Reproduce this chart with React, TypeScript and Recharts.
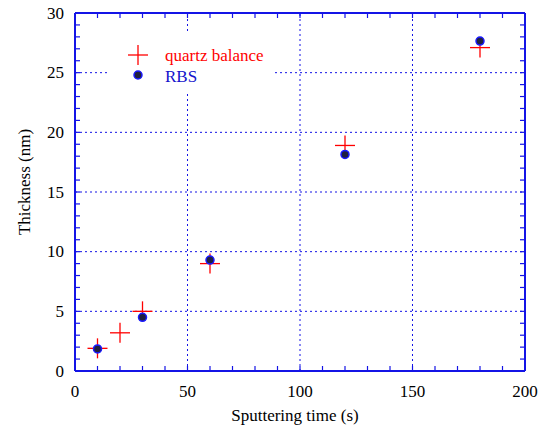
import React from 'react';
import {
  ScatterChart,
  Scatter,
  XAxis,
  YAxis,
  ReferenceLine,
  Legend,
} from 'recharts';

// sputtering time (s) vs film thickness (nm)
const quartzTime = [10, 20, 30, 60, 120, 180];
const quartzThickness = [1.9, 3.2, 5.0, 9.0, 18.9, 27.1];
const rbsTime = [10, 30, 60, 120, 180];
const rbsThickness = [1.85, 4.5, 9.3, 18.15, 27.65];

const xTicks = [0, 10, 20, 30, 40, 50, 60, 70, 80, 90, 100, 110, 120, 130, 140, 150, 160, 170, 180, 190, 200];
const xMajor = [0, 50, 100, 150, 200];
const yTicks = [0, 1, 2, 3, 4, 5, 6, 7, 8, 9, 10, 11, 12, 13, 14, 15, 16, 17, 18, 19, 20, 21, 22, 23, 24, 25, 26, 27, 28, 29, 30];
const yMajor = [0, 5, 10, 15, 20, 25, 30];
const xGrid = [50, 100, 150];
const yGrid = [5, 10, 15, 20, 25];

const quartzData = quartzTime.map((t, i) => ({ t, d: quartzThickness[i] }));
const rbsData = rbsTime.map((t, i) => ({ t, d: rbsThickness[i] }));

const AXIS = '#1414e6';
const FONT = 'Liberation Serif';
const FS = 17;
const TICK = 5;
// plot box (set by the margins below)
const PLOT_TOP = 13;
const PLOT_RIGHT = 525;

function Plus({ cx, cy }: any) {
  return (
    <g stroke="#ff0000" strokeWidth={1.3}>
      <line x1={cx - 10} y1={cy} x2={cx + 10} y2={cy} />
      <line x1={cx} y1={cy - 10} x2={cx} y2={cy + 10} />
    </g>
  );
}

function Dot({ cx, cy }: any) {
  return <circle cx={cx} cy={cy} r={4} fill="#202040" stroke="#1a1aff" strokeWidth={1.5} />;
}

function BottomTick({ x, y, payload }: any) {
  const major = xMajor.includes(payload.value);
  return (
    <g>
      <line x1={x} y1={y} x2={x} y2={y - TICK} stroke={AXIS} strokeWidth={1.2} />
      <line x1={x} y1={PLOT_TOP} x2={x} y2={PLOT_TOP + TICK} stroke={AXIS} strokeWidth={1.2} />
      {major && (
        <text x={x} y={y + 26} textAnchor="middle" fontFamily={FONT} fontSize={FS} fill="#000">
          {payload.value}
        </text>
      )}
    </g>
  );
}

function LeftTick({ x, y, payload }: any) {
  const major = yMajor.includes(payload.value);
  return (
    <g>
      <line x1={x} y1={y} x2={x + TICK} y2={y} stroke={AXIS} strokeWidth={1.2} />
      <line x1={PLOT_RIGHT} y1={y} x2={PLOT_RIGHT - TICK} y2={y} stroke={AXIS} strokeWidth={1.2} />
      {major && (
        <text x={x - 11} y={y + 5.5} textAnchor="end" fontFamily={FONT} fontSize={FS} fill="#000">
          {payload.value}
        </text>
      )}
    </g>
  );
}

function XTitle({ viewBox }: any) {
  const { x, y, width } = viewBox;
  return (
    <text x={x + width / 2 - 5} y={y + 50} textAnchor="middle" fontFamily={FONT} fontSize={FS} fill="#000">
      Sputtering time (s)
    </text>
  );
}

function YTitle({ viewBox }: any) {
  const { x, y, height } = viewBox;
  const cx = x + 24;
  const cy = y + height / 2 - 10;
  return (
    <text
      x={cx}
      y={cy}
      transform={`rotate(-90 ${cx} ${cy})`}
      textAnchor="middle"
      dominantBaseline="central"
      fontFamily={FONT}
      fontSize={FS}
      fill="#000"
    >
      Thickness (nm)
    </text>
  );
}

function LegendBox() {
  return (
    <div style={{ width: 166, height: 60, background: '#fff' }}>
      <svg width={166} height={60}>
        <Plus cx={31} cy={22} />
        <text x={58} y={28} fontFamily={FONT} fontSize={FS} fill="#ff0000">
          quartz balance
        </text>
        <Dot cx={31} cy={42} />
        <text x={58} y={48.5} fontFamily={FONT} fontSize={FS} fill="#1414cc">
          RBS
        </text>
      </svg>
    </div>
  );
}

export default function App() {
  return (
    <div style={{ position: 'absolute', left: 0, top: 0, background: '#fff' }}>
      <ScatterChart width={543} height={427} margin={{ top: 13, right: 18, bottom: 0, left: 0 }}>
        <XAxis
          dataKey="t"
          type="number"
          domain={[0, 200]}
          ticks={xTicks}
          interval={0}
          height={56}
          tickSize={0}
          tickMargin={0}
          tickLine={false}
          axisLine={{ stroke: AXIS, strokeWidth: 2 }}
          tick={<BottomTick />}
          label={<XTitle />}
        />
        <YAxis
          dataKey="d"
          type="number"
          domain={[0, 30]}
          ticks={yTicks}
          interval={0}
          width={75}
          tickSize={0}
          tickMargin={0}
          tickLine={false}
          axisLine={{ stroke: AXIS, strokeWidth: 2 }}
          tick={<LeftTick />}
          label={<YTitle />}
        />
        {xGrid.map((v) => (
          <ReferenceLine key={'x' + v} x={v} stroke={AXIS} strokeDasharray="2 3" strokeWidth={1} />
        ))}
        {yGrid.map((v) => (
          <ReferenceLine key={'y' + v} y={v} stroke={AXIS} strokeDasharray="2 3" strokeWidth={1} />
        ))}
        <ReferenceLine x={200} stroke={AXIS} strokeWidth={2} />
        <ReferenceLine y={30} stroke={AXIS} strokeWidth={2} />
        <Legend
          layout="vertical"
          align="center"
          verticalAlign="middle"
          wrapperStyle={{ left: 107, top: 33, width: 166, height: 60 }}
          content={<LegendBox />}
        />
        <Scatter name="quartz balance" data={quartzData} shape={<Plus />} isAnimationActive={false} />
        <Scatter name="RBS" data={rbsData} shape={<Dot />} isAnimationActive={false} />
      </ScatterChart>
    </div>
  );
}
